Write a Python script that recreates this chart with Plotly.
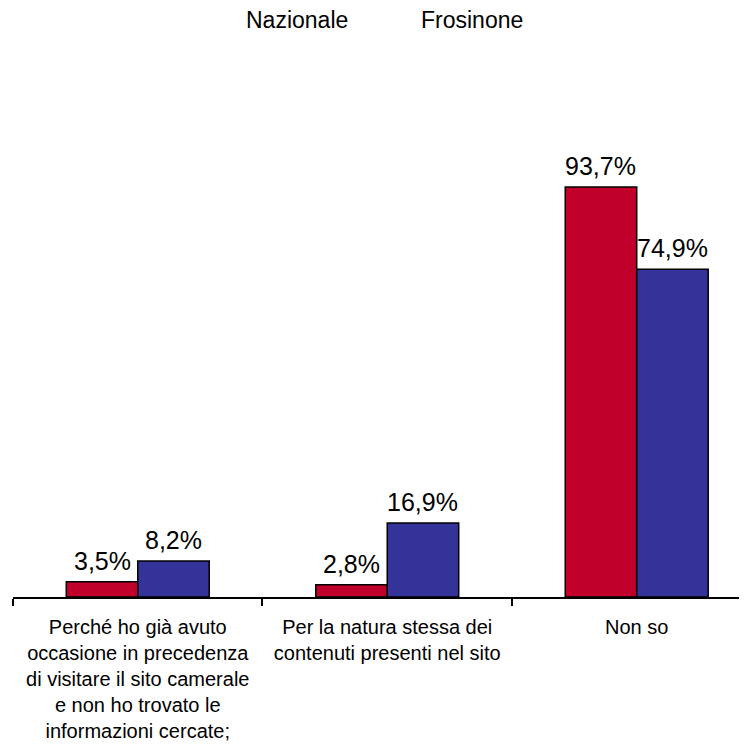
import plotly.graph_objects as go

categories = [
    "Perché ho già avuto occasione in precedenza di visitare il sito camerale e non ho trovato le informazioni cercate;",
    "Per la natura stessa dei contenuti presenti nel sito",
    "Non so",
]
tick_labels = [
    "Perché ho già avuto<br>occasione in precedenza<br>di visitare il sito camerale<br>e non ho trovato le<br>informazioni cercate;",
    "Per la natura stessa dei<br>contenuti presenti nel sito",
    "Non so",
]
series_names = ["Nazionale", "Frosinone"]
nazionale = [3.5, 2.8, 93.7]
frosinone = [8.2, 16.9, 74.9]
colors = ["#C0002A", "#333399"]

def fmt(v):
    return f"{v:.1f}%".replace(".", ",")

# page has an 8px body margin; size the figure to fit the window
W, H = 739, 748
L, R, T, B = 5, 0, 52, 159
pw = W - L - R
ph = H - T - B
BARGAP = 0.427
XRANGE = [-0.5, 2.442]

fig = go.Figure()
for name, vals, col in zip(series_names, [nazionale, frosinone], colors):
    fig.add_trace(go.Bar(
        x=categories, y=vals, name=name,
        marker=dict(color=col, line=dict(color="black", width=1.5)),
        cliponaxis=False,
    ))

# value labels placed above each bar (offset by half the bar width)
cat_px = pw / (XRANGE[1] - XRANGE[0])
bar_px = cat_px * (1 - BARGAP) / len(series_names)
annotations = []
for i, vals in enumerate([nazionale, frosinone]):
    shift = (i - (len(series_names) - 1) / 2) * bar_px
    for c, v in zip(categories, vals):
        annotations.append(dict(x=c, y=v, xref="x", yref="y", text=fmt(v),
                                showarrow=False, xanchor="center", yanchor="bottom",
                                xshift=shift, yshift=5,
                                font=dict(size=25, color="black")))

def px_to_paper(x, y):
    return (x - L) / pw, (H - B - y) / ph

legend_pos = [(289, 12), (464, 12)]
for name, (xp, yp) in zip(series_names, legend_pos):
    ax, ay = px_to_paper(xp, yp)
    annotations.append(dict(text=name, x=ax, y=ay, xref="paper", yref="paper",
                            showarrow=False, xanchor="center", yanchor="middle",
                            font=dict(size=23)))

fig.update_layout(
    width=W, height=H,
    margin=dict(l=L, r=R, t=T, b=B, autoexpand=False),
    paper_bgcolor="white", plot_bgcolor="white",
    barmode="group", bargap=BARGAP, bargroupgap=0,
    showlegend=False,
    font=dict(family="Liberation Sans, Arial", color="black"),
    annotations=annotations,
)

fig.update_xaxes(
    type="category", range=XRANGE, automargin=False,
    tickvals=categories, ticktext=tick_labels,
    tickson="boundaries", ticks="outside", ticklen=7, tickwidth=1.5, tickcolor="black",
    ticklabelstandoff=11,
    showline=True, linecolor="black", linewidth=1.5,
    tickfont=dict(size=20, color="black"),
    showgrid=False, zeroline=False,
)
fig.update_yaxes(range=[0, 122.7], visible=False, showgrid=False, zeroline=False, automargin=False)

fig.write_html("out.html")
